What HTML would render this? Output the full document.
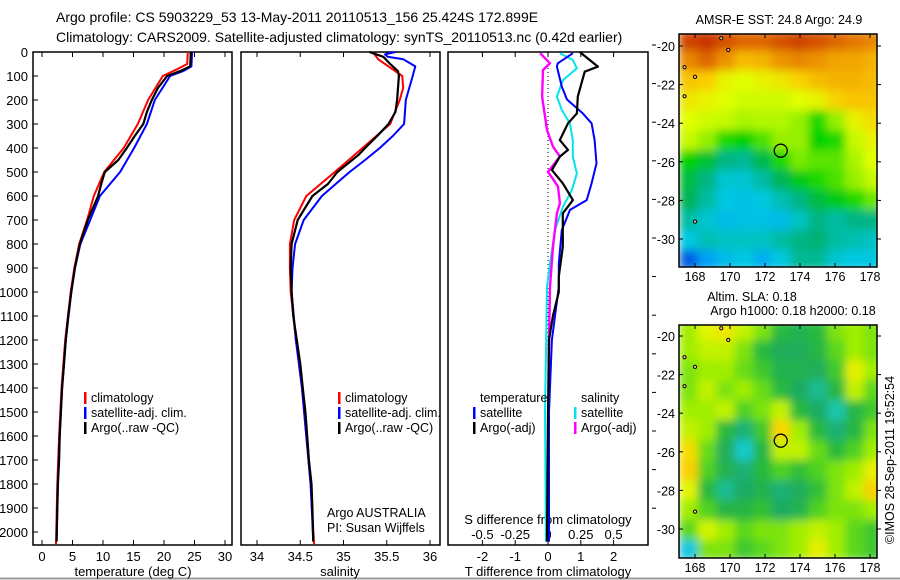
<!DOCTYPE html>
<html><head><meta charset="utf-8"><style>
body{margin:0;background:#fff;}
svg{display:block;font-family:"Liberation Sans",sans-serif;}
</style></head><body>
<svg id="chart" width="900" height="580" viewBox="0 0 900 580" xmlns="http://www.w3.org/2000/svg">
<defs>
<filter id="blur" x="0" y="0" width="1" height="1"><feGaussianBlur stdDeviation="4.5" edgeMode="duplicate"/></filter>
<clipPath id="clip1"><rect x="679" y="34" width="198" height="233"/></clipPath>
<clipPath id="clip2"><rect x="679" y="325" width="198" height="233"/></clipPath>
</defs>
<text x="56" y="22" font-size="14">Argo profile: CS 5903229_53 13-May-2011 20110513_156 25.424S 172.899E</text>
<text x="56" y="42" font-size="14">Climatology: CARS2009. Satellite-adjusted climatology: synTS_20110513.nc (0.42d earlier)</text>
<line x1="0" y1="578.5" x2="900" y2="578.5" stroke="#999" stroke-width="2"/>
<g id="g"></g>
</svg>
<script>
// ---- data: temperature panel (depth m, deg C)
const tDepthArgo=[0,60,80,100,150,200,250,300,350,400,450,500,550,600,700,800,900,1000,1100,1200,1300,1400,1500,1600,1700,1800,1900,2040];
const tArgo=[24.4,24.3,22.6,20.5,19.0,18.0,17.2,16.6,15.2,13.9,12.5,10.3,9.7,9.2,7.5,6.2,5.4,4.8,4.3,3.9,3.6,3.3,3.1,2.9,2.8,2.6,2.5,2.4];
const tDepthClim=[0,50,70,100,200,300,400,500,600,700,800,900,1000,1200,1400,1600,1800,2050];
const tClim=[23.9,23.8,22.3,19.8,17.4,15.7,13.4,10.2,8.5,7.4,6.1,5.3,4.7,3.8,3.2,2.8,2.5,2.3];
const tDepthSat=[0,60,80,100,200,300,400,500,600,700,800,900,1000,1200,1400,1600,1800,2030];
const tSat=[24.6,24.5,23.1,21.0,18.5,17.2,15.1,12.8,9.5,7.9,6.3,5.4,4.8,3.9,3.3,2.9,2.6,2.4];
// ---- salinity panel
const sDepthArgo=[0,20,50,80,100,200,250,300,350,400,430,450,500,550,600,700,800,900,1000,1100,1200,1300,1400,1500,1600,1700,1800,1900,2040];
const sArgo=[35.30,35.46,35.54,35.63,35.64,35.62,35.60,35.52,35.39,35.25,35.17,35.10,34.93,34.82,34.64,34.47,34.40,34.39,34.40,34.42,34.46,34.50,34.53,34.56,34.58,34.60,34.63,34.64,34.65];
const sDepthClim=[0,30,50,100,150,200,300,400,500,600,700,800,900,1000,1200,1400,1600,1800,2050];
const sClim=[35.34,35.40,35.48,35.68,35.69,35.65,35.54,35.22,34.90,34.57,34.43,34.38,34.38,34.39,34.45,34.52,34.57,34.62,34.66];
const sDepthSat=[0,10,20,30,60,100,200,300,350,400,450,500,550,600,700,800,900,1000,1200,1400,1600,1800,2030];
const sSat=[35.60,35.48,35.51,35.69,35.83,35.80,35.72,35.70,35.57,35.42,35.25,35.07,34.91,34.75,34.54,34.44,34.41,34.40,34.45,34.52,34.57,34.62,34.65];
// ---- difference panel
const dDepthTA=[0,61,82,186,256,297,367,408,436,492,547,617,672,811,936,1000,1100,1200,1500,2040];
const dTArgo=[0.97,1.52,1.12,0.91,0.88,0.61,0.36,0.61,0.36,0.12,0.45,0.76,0.45,0.45,0.33,0.33,0.15,0.03,0.0,-0.03];
const dDepthTS=[5,47,61,144,198,256,297,367,464,547,617,658,742,881,978,1200,1500,2040];
const dTSat=[0.76,0.30,0.27,0.42,0.58,1.06,1.33,1.42,1.48,1.33,1.18,0.67,0.42,0.33,0.33,0.12,0.03,0.03];
const dDepthSA=[5,47,75,186,325,394,436,499,561,631,672,811,978,1200,2040];
const dSArgo=[-0.06,0.015,-0.038,-0.045,-0.008,0.038,0.091,0.0,0.076,0.091,0.068,0.038,0.015,0.008,0.0];
const dDepthSS=[5,33,68,117,186,242,297,367,436,506,575,644,742,881,978,1500,2040];
const dSSat=[0.091,0.189,0.220,0.114,0.068,0.106,0.167,0.189,0.189,0.220,0.182,0.114,0.053,0.015,-0.008,-0.023,-0.015];
// ---- axis tick labels
const depthTicks=[0,100,200,300,400,500,600,700,800,900,1000,1100,1200,1300,1400,1500,1600,1700,1800,1900,2000];
const tempTicks=[0,5,10,15,20,25,30];
const salTicks=[34,34.5,35,35.5,36];
const tdTicks=[-2,-1,0,1,2];
const sdTicks=[-0.5,-0.25,0,0.25,0.5];
const sdTickLabels=["-0.5","-0.25","0","0.25","0.5"];
const lonTicks=[168,170,172,174,176,178];
const latTicks=[-20,-22,-24,-26,-28,-30];
// ---- maps (rows lat -19.4..-31.4, cols lon 167.3..178.5)
const sstGrid=[
[0.9,0.92,0.88,0.85,0.85,0.88,0.9,0.88,0.85,0.82,0.8],
[0.8,0.85,0.78,0.7,0.72,0.78,0.8,0.78,0.75,0.75,0.72],
[0.68,0.66,0.6,0.58,0.6,0.62,0.65,0.7,0.72,0.72,0.7],
[0.62,0.6,0.58,0.56,0.56,0.56,0.58,0.6,0.65,0.68,0.68],
[0.58,0.56,0.55,0.52,0.53,0.53,0.5,0.42,0.5,0.6,0.64],
[0.55,0.5,0.42,0.4,0.45,0.5,0.5,0.4,0.42,0.55,0.6],
[0.4,0.36,0.3,0.29,0.34,0.42,0.48,0.46,0.46,0.52,0.58],
[0.35,0.3,0.25,0.25,0.28,0.33,0.38,0.42,0.45,0.5,0.55],
[0.33,0.28,0.24,0.23,0.24,0.27,0.3,0.35,0.38,0.42,0.47],
[0.28,0.25,0.22,0.23,0.23,0.22,0.26,0.3,0.28,0.3,0.3],
[0.24,0.27,0.26,0.26,0.26,0.28,0.3,0.31,0.28,0.27,0.26],
[0.08,0.18,0.22,0.24,0.2,0.24,0.29,0.29,0.25,0.24,0.24]];
const slaGrid=[
[0.5,0.6,0.65,0.55,0.45,0.3,0.25,0.3,0.45,0.5,0.45],
[0.5,0.55,0.55,0.45,0.3,0.22,0.22,0.28,0.4,0.5,0.45],
[0.45,0.5,0.5,0.42,0.35,0.25,0.25,0.22,0.35,0.62,0.5],
[0.45,0.55,0.45,0.5,0.42,0.3,0.2,0.15,0.28,0.55,0.4],
[0.5,0.5,0.55,0.38,0.45,0.55,0.3,0.2,0.12,0.28,0.35],
[0.55,0.5,0.3,0.18,0.35,0.7,0.5,0.3,0.18,0.28,0.45],
[0.68,0.42,0.22,0.08,0.28,0.55,0.55,0.42,0.3,0.38,0.5],
[0.72,0.38,0.25,0.18,0.3,0.38,0.32,0.38,0.45,0.5,0.62],
[0.6,0.3,0.15,0.2,0.25,0.18,0.22,0.32,0.45,0.55,0.72],
[0.5,0.38,0.28,0.28,0.32,0.2,0.25,0.38,0.45,0.45,0.5],
[0.4,0.58,0.5,0.4,0.45,0.45,0.5,0.55,0.5,0.4,0.35],
[0.05,0.45,0.45,0.35,0.4,0.45,0.5,0.62,0.5,0.4,0.35]];
const argoLon=172.899, argoLat=-25.424;

const NS="http://www.w3.org/2000/svg";
const G=document.getElementById('g');
function el(tag,attrs,parent){const e=document.createElementNS(NS,tag);for(const k in attrs)e.setAttribute(k,attrs[k]);(parent||G).appendChild(e);return e;}
function txt(x,y,s,size,anchor,parent){const t=el('text',{x:x,y:y,'font-size':size||13,'text-anchor':anchor||'middle'},parent);t.textContent=s;return t;}

const TOP=52, BOT=545;
const yD=d=>TOP+d*0.24;
const xT=v=>42+v*6.1;
const xS=v=>257+(v-34)*86.5;
const xTD=v=>548+v*32.8;
const xSD=v=>548+v*131.2;
const panels=[[33,232],[241,440],[448,648]];

panels.forEach((p,i)=>{
  const r=el('rect',{x:p[0],y:TOP,width:p[1]-p[0],height:BOT-TOP,fill:'none',stroke:'#000','stroke-width':1.5});
  
  
});
depthTicks.forEach(d=>{
  const y=yD(d);
  const l=el('line',{x1:33,y1:y,x2:38,y2:y,stroke:'#000'});
  
  
  const t=txt(28,y+5,String(d),13,'end');
  
  
});
function xticks(ticks,labels,f,ylab){
  ticks.forEach((v,i)=>{
    const x=f(v);
    el('line',{x1:x,y1:BOT,x2:x,y2:BOT-5,stroke:'#000'});
    el('line',{x1:x,y1:TOP,x2:x,y2:TOP+5,stroke:'#000'});
    const t=txt(x,ylab,labels[i],13);
    
    
  });
}
xticks(tempTicks,tempTicks.map(String),xT,561);
xticks(salTicks,salTicks.map(String),xS,561);
xticks(tdTicks,tdTicks.map(String),xTD,561);
sdTicks.forEach((v,i)=>{const t=txt(xSD(v),539,sdTickLabels[i],13);});
[[133,'temperature (deg C)'],[340,'salinity'],[548,'T difference from climatology']].forEach(a=>{
  const t=txt(a[0],576,a[1],13);});
{const t=txt(548,524,'S difference from climatology',13);}
for(let y=45;y<=540;y+=38.6){el('line',{x1:652,y1:y,x2:656,y2:y,stroke:'#000'});}
{const z=el('line',{x1:548,y1:TOP,x2:548,y2:BOT,stroke:'#000','stroke-dasharray':'1,3'});}

function series(depths,vals,fx,color,name,w){
  const pts=depths.map((d,i)=>fx(vals[i]).toFixed(1)+','+yD(d).toFixed(1)).join(' ');
  const p=el('polyline',{points:pts,fill:'none',stroke:color,'stroke-width':w||2,'stroke-linejoin':'round'});
  
  
}
series(tDepthClim,tClim,xT,'#f00','temp-climatology-line');
series(tDepthSat,tSat,xT,'#00f','temp-satellite-line');
series(tDepthArgo,tArgo,xT,'#000','temp-argo-line',2.2);
series(sDepthClim,sClim,xS,'#f00','sal-climatology-line');
series(sDepthSat,sSat,xS,'#00f','sal-satellite-line');
series(sDepthArgo,sArgo,xS,'#000','sal-argo-line',2.2);
series(dDepthSS,dSSat,xSD,'#00e5ee','sdiff-satellite-line');
series(dDepthSA,dSArgo,xSD,'#f0f','sdiff-argo-line',2.4);
series(dDepthTS,dTSat,xTD,'#00f','tdiff-satellite-line');
series(dDepthTA,dTArgo,xTD,'#000','tdiff-argo-line',2.2);

function legend(x,y,items,name){
  items.forEach((it,i)=>{
    const yy=y+i*15;
    const m=el('rect',{x:x,y:yy-10,width:2.5,height:12,fill:it[1]});
    
    
    const t=txt(x+7,yy,it[0],12.5,'start');
    
    
  });
}
legend(84,402,[['climatology','#f00'],['satellite-adj. clim.','#00f'],['Argo(..raw -QC)','#000']],'temp-legend');
legend(338,402,[['climatology','#f00'],['satellite-adj. clim.','#00f'],['Argo(..raw -QC)','#000']],'sal-legend');
{const t=txt(480,402,'temperature',12.5,'start');}
{const t=txt(581,402,'salinity',12.5,'start');}
legend(473,417,[['satellite','#00f'],['Argo(-adj)','#000']],'tdiff-legend');
legend(574,417,[['satellite','#00e5ee'],['Argo(-adj)','#f0f']],'sdiff-legend');
{const t=txt(327,517,'Argo AUSTRALIA',12.5,'start');}
{const t=txt(327,532,'PI: Susan Wijffels',12.5,'start');}

function cmap(stops,v){
  for(let i=1;i<stops.length;i++){
    if(v<=stops[i][0]||i===stops.length-1){
      const a=stops[i-1],b=stops[i];const t=Math.max(0,Math.min(1,(v-a[0])/(b[0]-a[0])));
      const c=a[1].map((c0,k)=>Math.round(c0+(b[1][k]-c0)*t));
      return 'rgb('+c.join(',')+')';
    }
  }
}
const sstStops=[[0,[0,40,190]],[0.15,[0,140,255]],[0.24,[0,200,225]],[0.32,[0,175,100]],[0.4,[0,210,0]],[0.5,[150,240,0]],[0.58,[225,255,0]],[0.66,[250,205,0]],[0.76,[240,160,0]],[0.86,[220,95,0]],[0.95,[190,30,0]]];
const slaStops=[[0,[0,190,255]],[0.1,[30,205,190]],[0.2,[30,170,100]],[0.3,[40,185,60]],[0.4,[90,215,30]],[0.5,[160,238,0]],[0.6,[225,245,0]],[0.7,[250,215,0]],[0.85,[240,165,0]]];
function map(idx,grid,stops,top,latM20,latM30){
  const x0=679,x1=877,bot=top+233;
  const xL=lon=>695+(lon-168)*17.5;
  const yL=lat=>latM20+(-20-lat)*(latM30-latM20)/10;
  const g=el('g',{'clip-path':'url(#clip'+idx+')'});
  
  
  const inner=el('g',{filter:'url(#blur)'},g);
  el('rect',{x:x0,y:top,width:x1-x0,height:bot-top,fill:cmap(stops,grid[5][5])},inner);
  const nr=grid.length,nc=grid[0].length;
  grid.forEach((row,r)=>row.forEach((v,c)=>{
    const la0=-19.2-r*(12.4/nr),la1=la0-12.4/nr;
    const lo0=167.1+c*(11.6/nc),lo1=lo0+11.6/nc;
    const cell=el('rect',{x:xL(lo0),y:yL(la0),width:xL(lo1)-xL(lo0)+0.5,height:yL(la1)-yL(la0)+0.5,fill:cmap(stops,v)},inner);
    
    
  }));
  const fr=el('rect',{x:x0,y:top,width:x1-x0,height:bot-top,fill:'none',stroke:'#000','stroke-width':1.5});
  
  
  lonTicks.forEach(lo=>{const x=xL(lo);el('line',{x1:x,y1:bot,x2:x,y2:bot-4,stroke:'#000'});el('line',{x1:x,y1:top,x2:x,y2:top+4,stroke:'#000'});
    const t=txt(x,bot+14,String(lo),12.5);});
  latTicks.forEach(la=>{const y=yL(la);el('line',{x1:x0,y1:y,x2:x0+4,y2:y,stroke:'#000'});el('line',{x1:x1,y1:y,x2:x1+4,y2:y,stroke:'#000'});
    const t=txt(x0-4,y+5,String(la),12.5,'end');});
  [[169.5,-19.6],[169.9,-20.2],[167.4,-21.1],[168,-21.6],[167.4,-22.6],[168,-29.1]].forEach(p=>{
    const isl=el('circle',{cx:xL(p[0]),cy:yL(p[1]),r:1.6,fill:'#fc9',stroke:'#000','stroke-width':1},g);
    
    
  });
  const c=el('circle',{cx:xL(argoLon),cy:yL(argoLat),r:6.5,fill:'none',stroke:'#000','stroke-width':1.3});
  
  
}
map(1,sstGrid,sstStops,34,46,239);
map(2,slaGrid,slaStops,325,336,529);
{const t=txt(779,24,'AMSR-E SST: 24.8 Argo: 24.9',12.5);}
{const t=txt(752,301,'Altim. SLA: 0.18',12.5);}
{const t=txt(793,315,'Argo h1000: 0.18 h2000: 0.18',12.5);}
{const t=txt(0,0,'©IMOS 28-Sep-2011 19:52:54',12.5);t.setAttribute('transform','translate(894,460) rotate(-90)');}
</script>
</body></html>
